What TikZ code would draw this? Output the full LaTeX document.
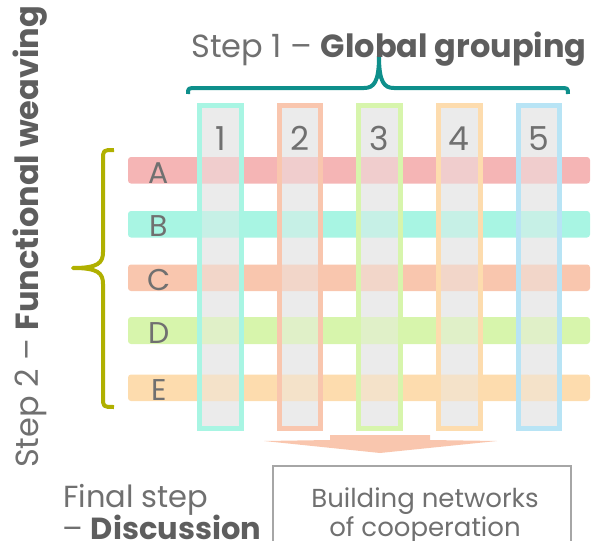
\documentclass[tikz,border=0pt]{standalone}
\usepackage{fontspec}
\setmainfont{Poppins}
\definecolor{txt}{HTML}{707070}
\definecolor{txtb}{HTML}{5E5E5E}
\definecolor{cA}{HTML}{F5B5B5}
\definecolor{cB}{HTML}{A8F5E3}
\definecolor{cC}{HTML}{F9C6AE}
\definecolor{cD}{HTML}{D7F5AC}
\definecolor{cE}{HTML}{FDDCAE}
\definecolor{cF}{HTML}{B8E4F5}
\definecolor{gcol}{HTML}{EBEBEB}
\definecolor{teal1}{HTML}{0E8F8B}
\definecolor{olive1}{HTML}{B0B000}
\definecolor{boxg}{HTML}{A6A6A6}
\tikzset{
  rowbar/.style={rounded corners=3pt},
  colframe/.style={line width=5pt},
  lab/.style={text=txt,inner sep=0pt,font=\fontsize{32}{32}\selectfont},
  numlab/.style={text=txt,inner sep=0pt,font=\fontsize{33}{33}\selectfont},
  letlab/.style={text=txt,inner sep=0pt,font=\fontsize{30}{30}\selectfont},
  boxlab/.style={text=txt,inner sep=0pt,font=\fontsize{26}{26}\selectfont},
  finlab/.style={text=txt,inner sep=0pt,font=\fontsize{30.5}{30}\selectfont},
}
\begin{document}
\begin{tikzpicture}[x=1pt,y=-1pt]
\useasboundingbox (0,0) rectangle (603,541);
% gray columns
\foreach \i in {0,...,4}{
  \fill[gcol] (199.7+79.6*\i,105.5) rectangle (241.3+79.6*\i,428.5);
}
% rows
\fill[cA,rowbar] (128,157) rectangle (590,183.5);
\fill[cB,rowbar] (128,211) rectangle (590,237.5);
\fill[cC,rowbar] (128,264.5) rectangle (590,291);
\fill[cD,rowbar] (128,317) rectangle (590,344);
\fill[cE,rowbar] (128,374.5) rectangle (590,401);
% gray overlay
\foreach \i in {0,...,4}{
  \fill[gcol,opacity=0.45] (199.7+79.6*\i,105.5) rectangle (241.3+79.6*\i,428.5);
}
% frames
\foreach \i/\c in {0/cB,1/cC,2/cD,3/cE,4/cF}{
  \draw[colframe,\c] (199.7+79.6*\i,105.5) rectangle (241.3+79.6*\i,428.5);
}
% numbers
\foreach \i/\n in {0/1,1/2,2/3,3/4,4/5}{
  \node[numlab,anchor=base] (n\n) at (220.5+79.6*\i,150) {\n};
}
% letters
\node[letlab,anchor=base] (la) at (159,183) {A};
\node[letlab,anchor=base] (lb) at (159,236.5) {B};
\node[letlab,anchor=base] (lc) at (159,290) {C};
\node[letlab,anchor=base] (ld) at (159,343) {D};
\node[letlab,anchor=base] (le) at (159,400) {E};
% teal brace
\draw[teal1,line width=4pt,line join=round] (188,94) .. controls (188,88) .. (197,88) -- (364,88) .. controls (374,88) and (379,82) .. (379,56) .. controls (379,82) and (384,88) .. (394,88) -- (560,88) .. controls (568,88) .. (568,94);
% olive brace
\draw[olive1,line width=4pt,line join=round] (114,150) .. controls (103,150) .. (103,160) -- (103,252) .. controls (103,263) and (98,268) .. (73,268) .. controls (98,268) and (103,273) .. (103,284) -- (103,397) .. controls (103,407) .. (114,407);
% titles
\node[lab,anchor=base] (t1) at (389,57) {Step 1 – \textbf{\color{txtb}Global grouping}};
\node[lab,anchor=base,rotate=90] (t2) at (38,237) {Step 2 – \textbf{\color{txtb}Functional weaving}};
% arrow
\fill[cC] (330,435) -- (430,435) -- (430,440) -- (497,441) -- (380,453) -- (264,441) -- (330,440) -- cycle;
% box
\draw[boxg,line width=1.5pt] (273,466) rectangle (571,570);
\node[boxlab,anchor=base] (box1) at (425,507) {Building networks};
\node[boxlab,anchor=base] (box2) at (425,536) {of cooperation};
% final step
\node[finlab,anchor=base west] (f1) at (63,507) {Final step};
\node[finlab,anchor=base west] (f2) at (62,539) {– \textbf{\color{txtb}Discussion}};
\end{tikzpicture}
\end{document}
